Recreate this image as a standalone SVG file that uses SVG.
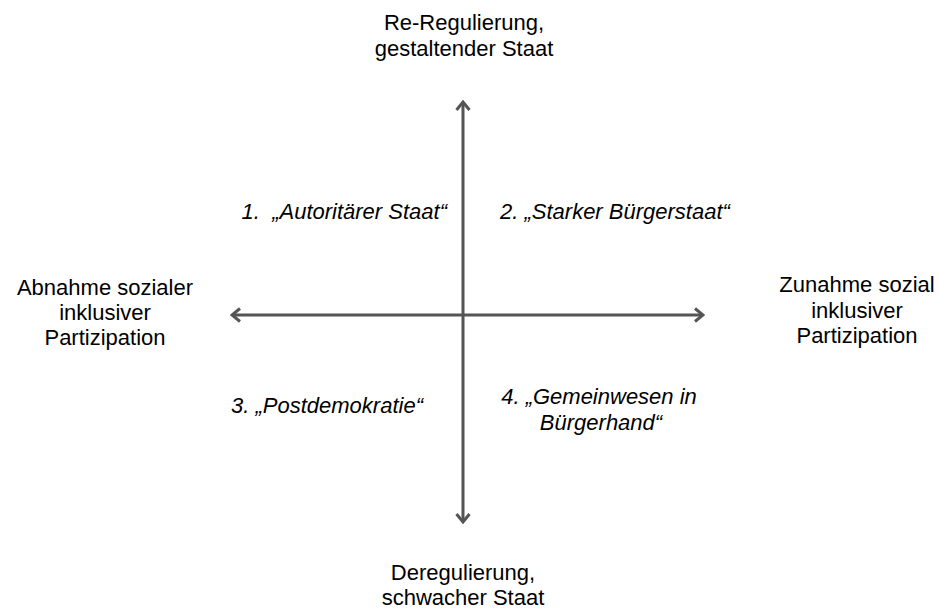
<svg xmlns="http://www.w3.org/2000/svg" width="939" height="610" viewBox="0 0 939 610">
<style>
text{font-family:"Liberation Sans",Arial,sans-serif;font-size:22px;fill:#000}
.q{font-style:italic}
.ax{stroke:#555;stroke-width:3;fill:none}
</style>
<defs>
<marker id="ah" viewBox="0 0 12 16" refX="10" refY="8" markerWidth="12" markerHeight="16" markerUnits="userSpaceOnUse" orient="auto-start-reverse">
<path d="M2,1.5 L10,8 L2,14.5" fill="none" stroke="#555" stroke-width="3"/>
</marker>
</defs>
<g id="connectors">
<line class="ax" x1="463" y1="522" x2="463" y2="102" marker-start="url(#ah)" marker-end="url(#ah)"/>
<line class="ax" x1="232" y1="315" x2="703" y2="315" marker-start="url(#ah)" marker-end="url(#ah)"/>
</g>
<g id="top"><text x="464" y="30" text-anchor="middle">Re-Regulierung,</text><text x="464" y="56" text-anchor="middle">gestaltender Staat</text></g>
<g id="bottom"><text x="463" y="580" text-anchor="middle">Deregulierung,</text><text x="463" y="605" text-anchor="middle">schwacher Staat</text></g>
<g id="left"><text x="105" y="295" text-anchor="middle">Abnahme sozialer</text><text x="105" y="320" text-anchor="middle">inklusiver</text><text x="105" y="345" text-anchor="middle">Partizipation</text></g>
<g id="right"><text x="857" y="292" text-anchor="middle">Zunahme sozial</text><text x="857" y="318" text-anchor="middle">inklusiver</text><text x="857" y="343" text-anchor="middle">Partizipation</text></g>
<g id="q1"><text class="q" x="447" y="219" text-anchor="end" xml:space="preserve">1.  „Autoritärer Staat“</text></g>
<g id="q2"><text class="q" x="500" y="219">2. „Starker Bürgerstaat“</text></g>
<g id="q3"><text class="q" x="231" y="413">3. „Postdemokratie“</text></g>
<g id="q4"><text class="q" x="599" y="404" text-anchor="middle">4. „Gemeinwesen in</text><text class="q" x="601" y="430" text-anchor="middle">Bürgerhand“</text></g>
</svg>
